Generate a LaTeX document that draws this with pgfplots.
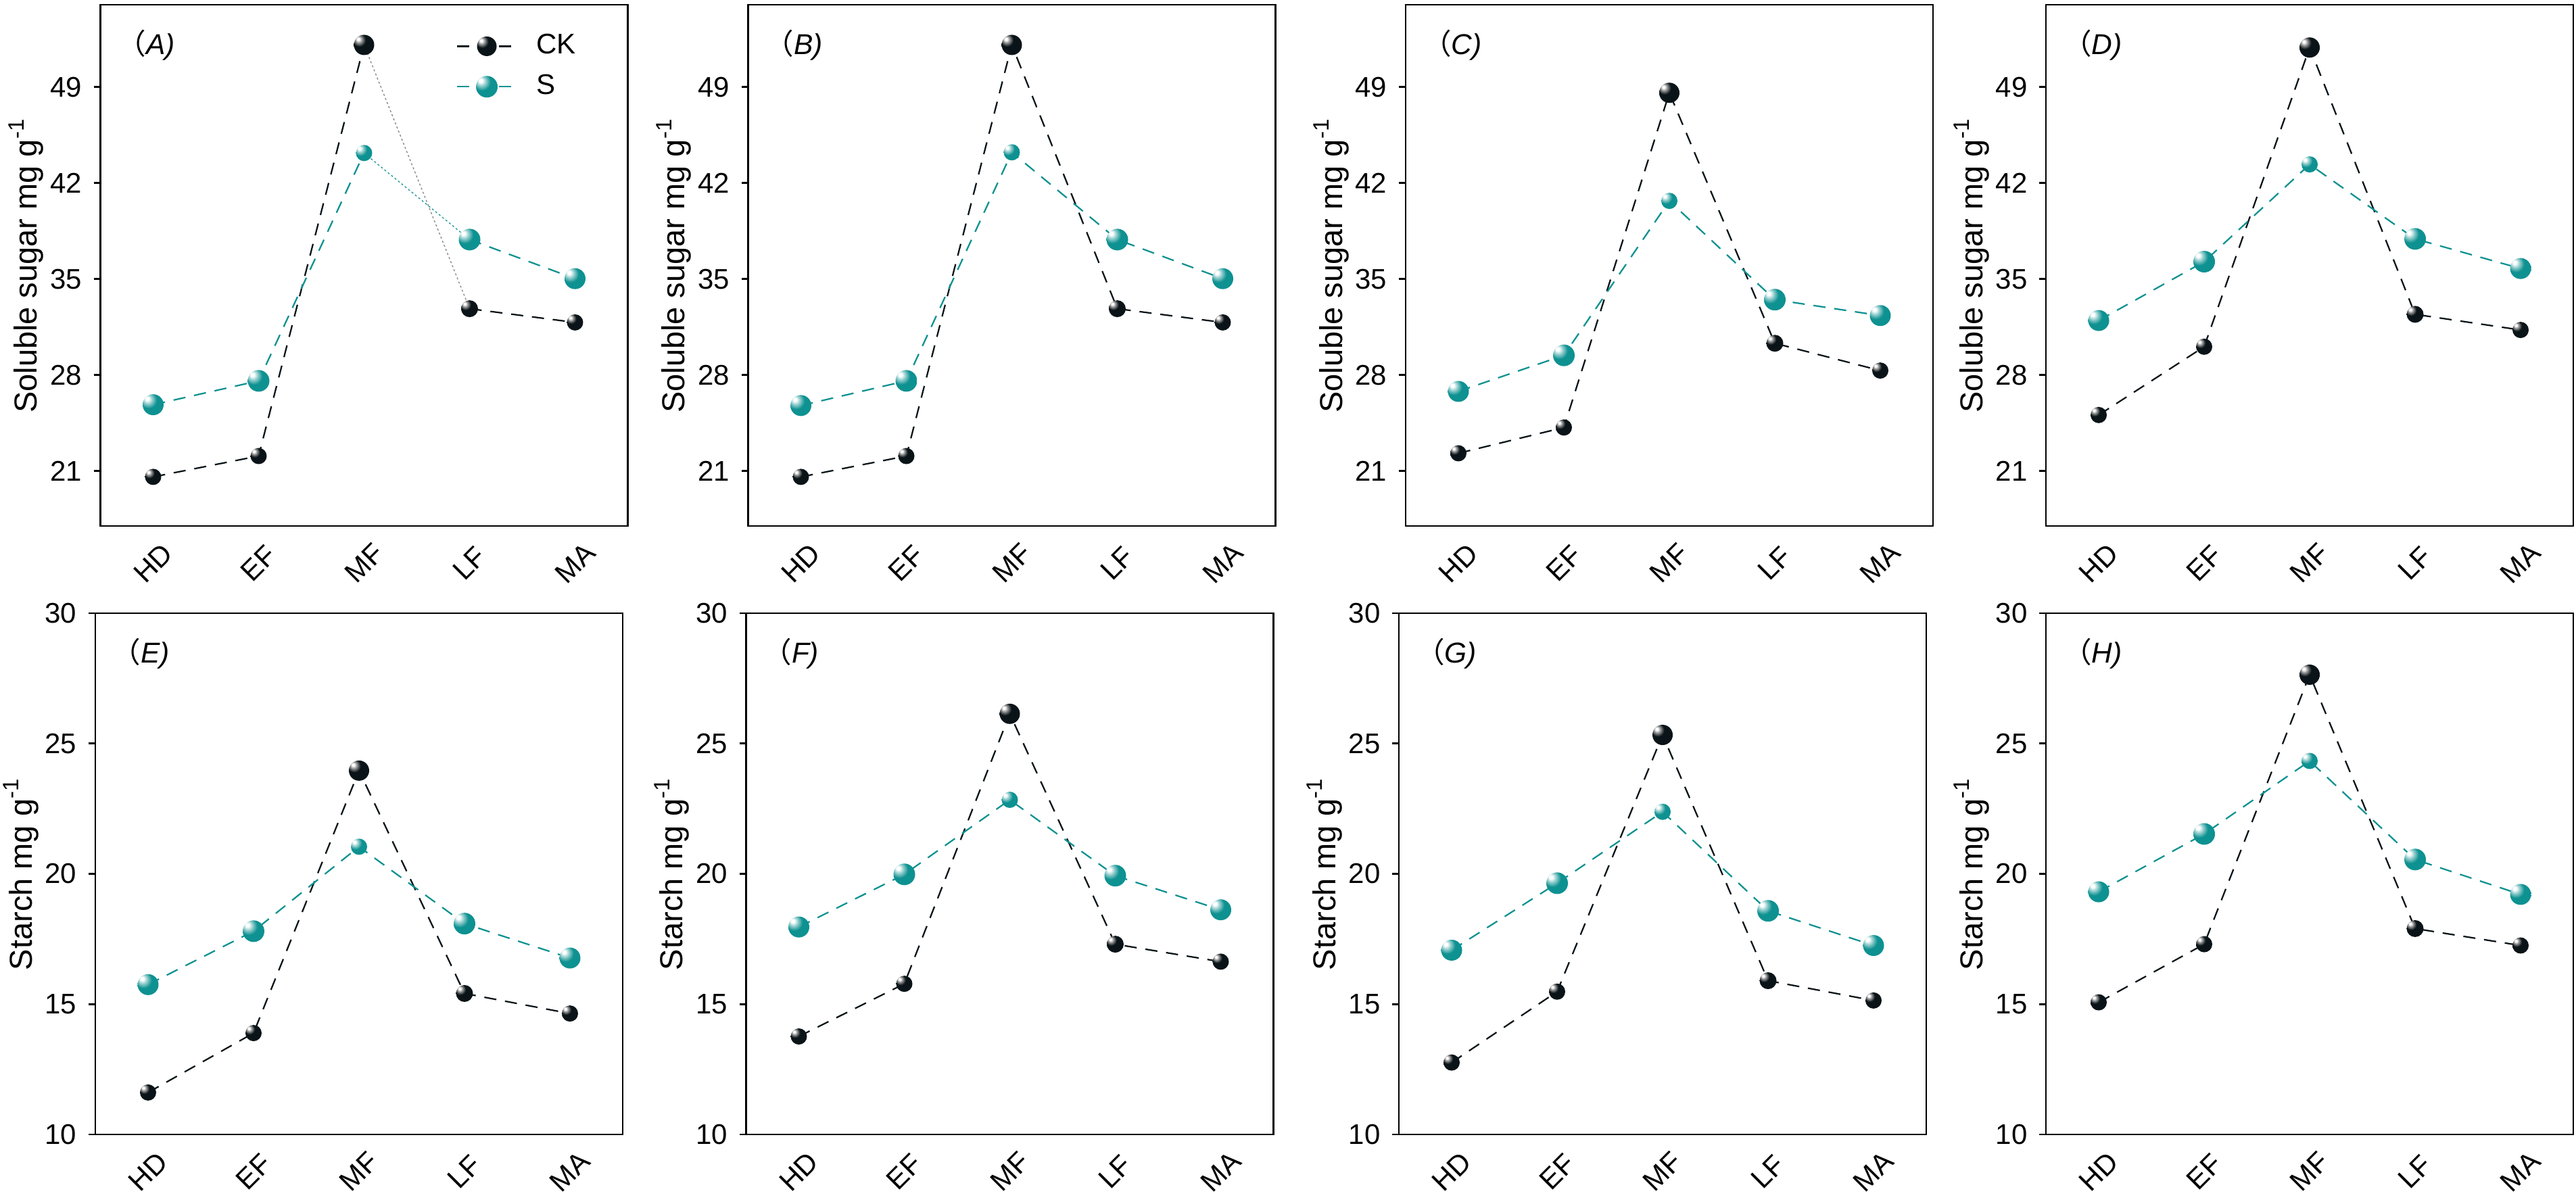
\documentclass[border=0pt]{standalone}
\usepackage{fontspec}
\setmainfont{Liberation Sans}
\newfontfamily\cjk{Noto Sans CJK SC}
\usepackage{pgfplots}
\usepackage{pgfplotstable}
\pgfplotsset{compat=1.18}

\definecolor{ckcol}{HTML}{0A1418}
\definecolor{scol}{HTML}{0E9191}

% shaded balls for the markers
\pgfdeclareradialshading{ckshade}{\pgfpoint{-15bp}{15bp}}{color(0bp)=(white); color(3bp)=(white); color(8bp)=(gray!80); color(16bp)=(ckcol); color(80bp)=(ckcol)}
\pgfdeclareradialshading{sshade}{\pgfpoint{-15bp}{15bp}}{color(0bp)=(white); color(4bp)=(white); color(10bp)=(scol!40!white); color(20bp)=(scol); color(55bp)=(scol); color(80bp)=(scol!85!black)}
\pgfdeclareplotmark{ckball}{\pgfpathcircle{\pgfpointorigin}{\pgfplotmarksize}\pgfshadepath{ckshade}{0}\pgfusepath{}}
\pgfdeclareplotmark{sball}{\pgfpathcircle{\pgfpointorigin}{\pgfplotmarksize}\pgfshadepath{sshade}{0}\pgfusepath{}}

\tikzset{
  ckline/.style={ckcol, line width=0.45pt, dash pattern=on 3.6pt off 2.6pt},
  sline/.style={scol, line width=0.45pt, dash pattern=on 3.6pt off 2.6pt},
  thindot/.style={line width=0.25pt, dash pattern=on 0.6pt off 0.7pt},
}

% x: HD EF MF LF MA ; rck/rs: marker radius (pt)
\pgfplotstableread{
x ck s rck rs
0 20.58 25.84 2.4 3.1
1 22.10 27.58 2.4 3.2
2 52.07 44.19 3.0 2.4
3 32.84 37.88 2.5 3.2
4 31.84 35.03 2.4 3.1
}\tabA
\pgfplotstableread{
x ck s rck rs
0 20.58 25.78 2.4 3.1
1 22.10 27.58 2.4 3.2
2 52.07 44.24 3.0 2.4
3 32.84 37.88 2.5 3.2
4 31.84 35.03 2.4 3.1
}\tabB
\pgfplotstableread{
x ck s rck rs
0 22.30 26.81 2.4 3.1
1 24.18 29.44 2.4 3.2
2 48.58 40.70 3.0 2.4
3 30.32 33.50 2.5 3.2
4 28.33 32.34 2.4 3.1
}\tabC
\pgfplotstableread{
x ck s rck rs
0 25.09 31.98 2.4 3.1
1 30.07 36.27 2.4 3.2
2 51.88 43.36 3.0 2.4
3 32.43 37.93 2.5 3.2
4 31.29 35.77 2.4 3.1
}\tabD
\pgfplotstableread{
x ck s rck rs
0 11.61 15.75 2.4 3.1
1 13.89 17.80 2.4 3.2
2 23.96 21.04 3.0 2.4
3 15.41 18.09 2.5 3.2
4 14.64 16.77 2.4 3.1
}\tabE
\pgfplotstableread{
x ck s rck rs
0 13.76 17.96 2.4 3.1
1 15.78 19.98 2.4 3.2
2 26.14 22.84 3.0 2.4
3 17.30 19.93 2.5 3.2
4 16.63 18.62 2.4 3.1
}\tabF
\pgfplotstableread{
x ck s rck rs
0 12.76 17.07 2.4 3.1
1 15.48 19.64 2.4 3.2
2 25.33 22.38 3.0 2.4
3 15.90 18.58 2.5 3.2
4 15.14 17.25 2.4 3.1
}\tabG
\pgfplotstableread{
x ck s rck rs
0 15.07 19.31 2.4 3.1
1 17.30 21.53 2.4 3.2
2 27.64 24.33 3.0 2.4
3 17.90 20.55 2.5 3.2
4 17.25 19.21 2.4 3.1
}\tabH

\pgfplotsset{
  panel/.style={
    anchor=south west, scale only axis, width=156pt, height=154.2pt,
    xmin=-0.5, xmax=4.5, xtick={0,...,4}, xticklabels={HD,EF,MF,LF,MA},
    xtick style={draw=none}, ytick pos=left, tick align=outside,
    major tick length=2pt,
    axis line style={line width=0.55pt},
    every tick/.style={line width=0.55pt, black},
    ticklabel style={font=\fontsize{8.4}{10}\selectfont},
    /pgf/number format/assume math mode=true,
    xticklabel style={yshift=-9pt, rotate=45, anchor=center, inner sep=0pt},
    every axis y label/.style={at={(rel axis cs:-0.141,0.5)}, rotate=90,
      anchor=center, font=\fontsize{9.4}{10}\selectfont},
  },
  toprow/.style={panel, ymin=17, ymax=55, ytick={21,28,35,42,49},
    ylabel={Soluble sugar mg g\textsuperscript{-1}}},
  botrow/.style={panel, ymin=10, ymax=30, ytick={10,15,20,25,30},
    ylabel={Starch mg g\textsuperscript{-1}}},
  ckmarks/.style={scatter, only marks, mark=ckball,
    visualization depends on={\thisrow{rck}\as\rr},
    scatter/@pre marker code/.append style={/tikz/mark size=\rr}},
  smarks/.style={scatter, only marks, mark=sball,
    visualization depends on={\thisrow{rs}\as\rr},
    scatter/@pre marker code/.append style={/tikz/mark size=\rr}},
}

\newcommand\drawmarks[1]{%
  \addplot[smarks] table[x=x,y=s]{#1};
  \addplot[ckmarks] table[x=x,y=ck]{#1};
}
\newcommand\drawseries[1]{%
  \addplot[ckline] table[x=x,y=ck]{#1};
  \addplot[sline] table[x=x,y=s]{#1};
  \drawmarks{#1}
}
\newcommand\paneltag[1]{%
  \node[anchor=west, inner sep=0pt, xshift=4.8pt, yshift=-12pt,
    font=\fontsize{8.5}{10}\selectfont] at (rel axis cs:0,1)
    {{\cjk （}\textit{#1)}};
}

\begin{document}
\begin{tikzpicture}
\useasboundingbox (0,0) rectangle (762pt,354.2pt);

\begin{axis}[toprow, at={(29.7pt,198.6pt)},
  legend style={at={(rel axis cs:0.6736,0.9455)}, anchor=north west,
    draw=none, fill=none, inner sep=0pt, row sep=4.6pt,
    /tikz/column sep=5.6pt, nodes={inner sep=0pt},
    font=\fontsize{8.4}{10}\selectfont},
  legend cell align=left]
\addlegendimage{legend image code/.code={%
  \draw[ckline] (0pt,0pt)--(17.6pt,0pt);
  \pgfscope\pgfsetplotmarksize{2.9pt}\pgftransformshift{\pgfpoint{8.8pt}{0pt}}\pgfuseplotmark{ckball}\endpgfscope}}
\addlegendentry{CK}
\addlegendimage{legend image code/.code={%
  \draw[sline] (0pt,0pt)--(17.6pt,0pt);
  \pgfscope\pgfsetplotmarksize{3.2pt}\pgftransformshift{\pgfpoint{8.8pt}{0pt}}\pgfuseplotmark{sball}\endpgfscope}}
\addlegendentry{S}
\addplot[ckline] coordinates {(0,20.58)(1,22.10)(2,52.07)};
\addplot[gray, thindot] coordinates {(2,52.07)(3,32.84)};
\addplot[ckline] coordinates {(3,32.84)(4,31.84)};
\addplot[sline] coordinates {(0,25.84)(1,27.58)(2,44.19)};
\addplot[scol, thindot] coordinates {(2,44.19)(3,37.88)};
\addplot[sline] coordinates {(3,37.88)(4,35.03)};
\drawmarks{\tabA}
\paneltag{A}
\end{axis}

\begin{axis}[toprow, at={(221.3pt,198.6pt)}]
\drawseries{\tabB}
\paneltag{B}
\end{axis}

\begin{axis}[toprow, at={(415.8pt,198.6pt)}]
\drawseries{\tabC}
\paneltag{C}
\end{axis}

\begin{axis}[toprow, at={(605.2pt,198.6pt)}]
\drawseries{\tabD}
\paneltag{D}
\end{axis}

\begin{axis}[botrow, at={(28.2pt,18.6pt)}]
\drawseries{\tabE}
\paneltag{E}
\end{axis}

\begin{axis}[botrow, at={(220.7pt,18.6pt)}]
\drawseries{\tabF}
\paneltag{F}
\end{axis}

\begin{axis}[botrow, at={(413.8pt,18.6pt)}]
\drawseries{\tabG}
\paneltag{G}
\end{axis}

\begin{axis}[botrow, at={(605.2pt,18.6pt)}]
\drawseries{\tabH}
\paneltag{H}
\end{axis}
\end{tikzpicture}
\end{document}
